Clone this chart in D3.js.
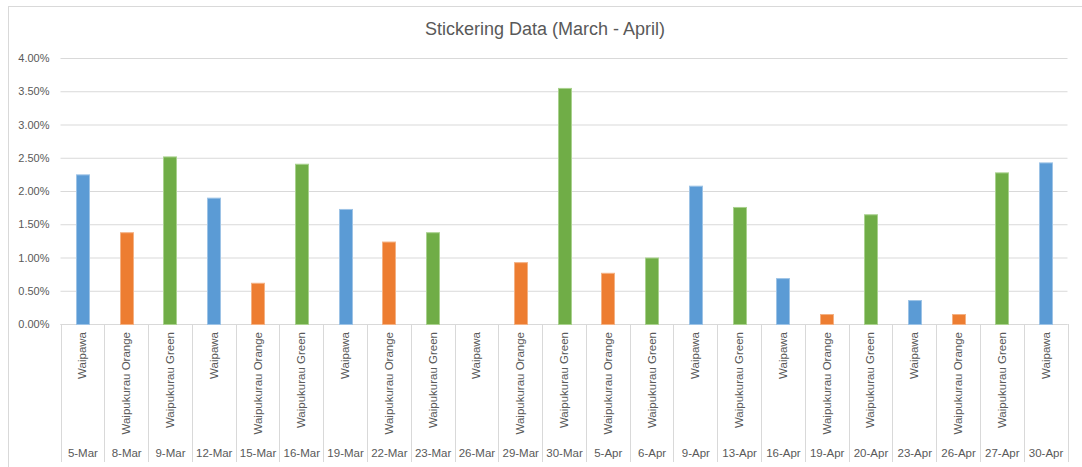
<!DOCTYPE html>
<html>
<head>
<meta charset="utf-8">
<script src="https://cdn.jsdelivr.net/npm/d3@7"></script>
<style>
  html, body { margin: 0; padding: 0; background: #fff; }
  svg { display: block; }
  text { font-family: "Liberation Sans", Arial, sans-serif; fill: #595959; }
</style>
</head>
<body>
<svg id="chart" width="1082" height="467"></svg>
<script>
const dates = ["5-Mar","8-Mar","9-Mar","12-Mar","15-Mar","16-Mar","19-Mar","22-Mar","23-Mar","26-Mar","29-Mar","30-Mar",
               "5-Apr","6-Apr","9-Apr","13-Apr","16-Apr","19-Apr","20-Apr","23-Apr","26-Apr","27-Apr","30-Apr"];
const sites = ["Waipawa","Waipukurau Orange","Waipukurau Green","Waipawa","Waipukurau Orange","Waipukurau Green","Waipawa",
               "Waipukurau Orange","Waipukurau Green","Waipawa","Waipukurau Orange","Waipukurau Green","Waipukurau Orange",
               "Waipukurau Green","Waipawa","Waipukurau Green","Waipawa","Waipukurau Orange","Waipukurau Green","Waipawa",
               "Waipukurau Orange","Waipukurau Green","Waipawa"];
const values = [0.0225,0.0138,0.0252,0.0190,0.0062,0.0241,0.0173,0.0124,0.0138,0,0.0093,0.0355,
                0.0077,0.0100,0.0208,0.0176,0.0069,0.0015,0.0165,0.0036,0.0015,0.0228,0.0243];
const yTicks = [0,0.005,0.01,0.015,0.02,0.025,0.03,0.035,0.04];
const siteNames = ["Waipawa","Waipukurau Orange","Waipukurau Green"];
const siteColors = ["#5B9BD5","#ED7D31","#70AD47"];
const siteStrokes = ["#9DC3E6","#F4B183","#A9D18E"];
const title = "Stickering Data (March - April)";

const svg = d3.select("#chart");
const mLeft = 60.5, mRight = 1067.5, mTop = 58, mBottom = 324;
const grid = "#D9D9D9";

// outer border
svg.append("rect").attr("x", 8.5).attr("y", 6.5).attr("width", 1100).attr("height", 500)
  .attr("fill", "none").attr("stroke", grid);

const idx = d3.range(dates.length);
const x = d3.scaleBand().domain(idx).range([mLeft, mRight]).paddingInner(0).paddingOuter(0);
const y = d3.scaleLinear().domain([0, 0.04]).range([mBottom, mTop]);
const color = d3.scaleOrdinal().domain(siteNames).range(siteColors);
const strokeC = d3.scaleOrdinal().domain(siteNames).range(siteStrokes);

// title
svg.append("text").attr("x", 545).attr("y", 35).attr("text-anchor", "middle")
  .style("font-size", "18px").text(title);

// gridlines
const yAxis = d3.axisLeft(y).tickValues(yTicks).tickFormat(d3.format(".2%"))
  .tickSize(-(mRight - mLeft)).tickPadding(11);
const gy = svg.append("g").attr("transform", `translate(${mLeft},0)`).call(yAxis);
gy.select(".domain").remove();
gy.selectAll(".tick line").attr("stroke", grid).attr("stroke-width", 1);
gy.selectAll(".tick text").style("font-size", "11px").attr("fill", "#595959");

// axis baseline
svg.append("line").attr("x1", mLeft).attr("x2", mRight).attr("y1", mBottom + 0.5).attr("y2", mBottom + 0.5)
  .attr("stroke", grid);

// category separators
const bounds = idx.map(i => x(i)).concat([mRight]);
svg.append("g").selectAll("line").data(bounds).join("line")
  .attr("x1", d => Math.round(d) + 0.5).attr("x2", d => Math.round(d) + 0.5)
  .attr("y1", mBottom).attr("y2", 462)
  .attr("stroke", grid);

// bars
const bw = 13;
svg.append("g").selectAll("rect").data(idx.filter(i => values[i] > 0)).join("rect")
  .attr("x", i => Math.round(x(i) + x.bandwidth() / 2 - bw / 2) + 0.5)
  .attr("width", bw)
  .attr("y", i => y(values[i]) + 0.5)
  .attr("height", i => mBottom - y(values[i]))
  .attr("fill", i => color(sites[i]))
  .attr("stroke", i => strokeC(sites[i]))
  .attr("stroke-width", 1);

// site labels (rotated)
svg.append("g").selectAll("text").data(idx).join("text")
  .attr("transform", i => `translate(${x(i) + x.bandwidth() / 2 + 4},332) rotate(-90)`)
  .attr("text-anchor", "end")
  .style("font-size", "11.5px")
  .text(i => sites[i]);

// date labels
svg.append("g").selectAll("text").data(idx).join("text")
  .attr("x", i => x(i) + x.bandwidth() / 2 + 0.5)
  .attr("y", 457)
  .attr("text-anchor", "middle")
  .style("font-size", "11.5px")
  .text(i => dates[i]);
</script>
</body>
</html>
